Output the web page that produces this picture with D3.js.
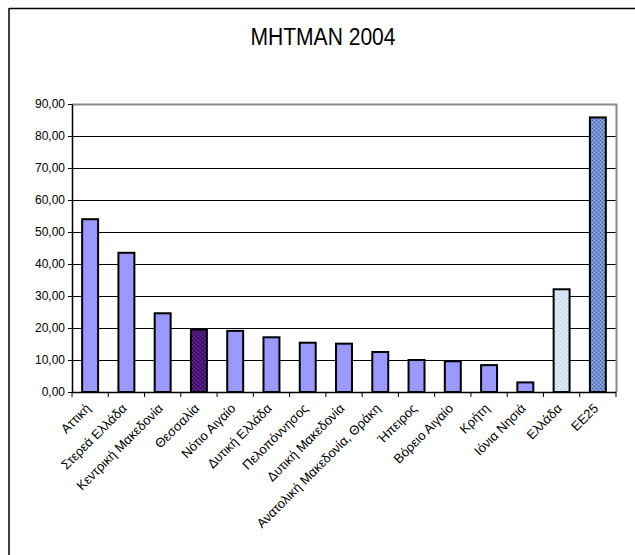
<!DOCTYPE html>
<html><head><meta charset="utf-8">
<script src="https://cdn.jsdelivr.net/npm/d3@7"></script>
<style>body{margin:0;background:#fff;overflow:hidden}svg{display:block}</style>
</head><body>
<script>
const categories = ["Αττική","Στερεά Ελλάδα","Κεντρική Μακεδονία","Θεσσαλία","Νότιο Αιγαίο","Δυτική Ελλάδα","Πελοπόννησος","Δυτική Μακεδονία","Ανατολική Μακεδονία, Θράκη","Ήπειρος","Βόρειο Αιγαίο","Κρήτη","Ιόνια Νησιά","Ελλάδα","ΕΕ25"];
const values = [54.0,43.5,24.6,19.5,19.1,17.1,15.4,15.1,12.5,10.0,9.6,8.4,3.0,32.1,85.8];
const yTicks = [0,10,20,30,40,50,60,70,80,90];
const title = "MHTMAN 2004";

const W=635,H=555;
const FONT="Liberation Sans, Arial, sans-serif";
const svg=d3.select("body").append("svg").attr("width",W).attr("height",H);
const defs=svg.append("defs");
function texture(id,base,dark,light){
  const p=defs.append("pattern").attr("id",id).attr("width",4).attr("height",4).attr("patternUnits","userSpaceOnUse");
  p.append("rect").attr("width",4).attr("height",4).attr("fill",base);
  p.append("rect").attr("x",0).attr("y",0).attr("width",1).attr("height",1).attr("fill",dark);
  p.append("rect").attr("x",2).attr("y",2).attr("width",1).attr("height",1).attr("fill",dark);
  p.append("rect").attr("x",2).attr("y",0).attr("width",1).attr("height",1).attr("fill",light);
  p.append("rect").attr("x",0).attr("y",2).attr("width",1).attr("height",1).attr("fill",light);
}
texture("tex-thes","#4a1677","#2e0a52","#6a2c9a");
texture("tex-ell","#d6e6f7","#b9cdee","#eaf2fb");
texture("tex-eu","#6f8fd0","#3f5fa8","#a9bde6");

// outer frame (left and top visible)
svg.append("line").attr("x1",9).attr("x2",9).attr("y1",8).attr("y2",H).attr("stroke","#000").attr("stroke-width",1.5);
svg.append("line").attr("x1",9).attr("x2",W).attr("y1",8.5).attr("y2",8.5).attr("stroke","#000").attr("stroke-width",1.5);

svg.append("text").attr("transform","translate(323,45) scale(0.86,1)").attr("text-anchor","middle")
  .attr("font-family",FONT).attr("font-size",24.5).text(title);

const L=72,R=616,T=104,B=392;
const x=d3.scaleBand().domain(categories).range([L,R]).paddingInner(0.56).paddingOuter(0.28);
const xb=d3.scaleBand().domain(categories).range([L,R]);
const y=d3.scaleLinear().domain([0,90]).range([B,T]);

// grid
svg.append("g").selectAll("line").data(yTicks.filter(d=>d>0&&d<90)).join("line")
  .attr("x1",L).attr("x2",R).attr("y1",d=>y(d)+0.5).attr("y2",d=>y(d)+0.5).attr("stroke","#000").attr("stroke-width",1);
// plot border top/right gray
svg.append("path").attr("d",`M${L},${T+0.5}H${R+0.5}V${B}`).attr("fill","none").attr("stroke","#888").attr("stroke-width",2);

const fills={"Θεσσαλία":"url(#tex-thes)","Ελλάδα":"url(#tex-ell)","ΕΕ25":"url(#tex-eu)"};
svg.append("g").selectAll("rect").data(categories).join("rect")
  .attr("x",d=>x(d)).attr("width",x.bandwidth())
  .attr("y",(d,i)=>y(values[i])).attr("height",(d,i)=>B-y(values[i]))
  .attr("fill",d=>fills[d]||"#9999ff").attr("stroke","#000").attr("stroke-width",2);

// y axis
const ya=svg.append("g").attr("transform",`translate(${L},0)`)
  .call(d3.axisLeft(y).tickValues(yTicks).tickSize(4).tickSizeOuter(0).tickPadding(3)
  .tickFormat(d=>d3.format(".2f")(d).replace(".",",")));
ya.select(".domain").attr("stroke","#000").attr("stroke-width",1.5);
ya.selectAll("text").attr("font-family",FONT).attr("font-size",12).attr("fill","#000");

// x axis
const xa=svg.append("g").attr("transform",`translate(0,${B})`);
xa.append("line").attr("x1",L).attr("x2",R).attr("y1",0.5).attr("y2",0.5).attr("stroke","#000").attr("stroke-width",1.5);
xa.selectAll("line.t").data(categories.concat(["__end"])).join("line").attr("class","t")
  .attr("x1",(d,i)=>i<categories.length?xb(d):R).attr("x2",(d,i)=>i<categories.length?xb(d):R)
  .attr("y1",0).attr("y2",5).attr("stroke","#000").attr("stroke-width",1);
xa.selectAll("text").data(categories).join("text")
  .attr("transform",d=>`translate(${xb(d)+xb.bandwidth()/2-2},${14}) rotate(-45)`)
  .attr("text-anchor","end").attr("dy","0.35em")
  .attr("font-family",FONT).attr("font-size",13).text(d=>d);
</script>
</body></html>
